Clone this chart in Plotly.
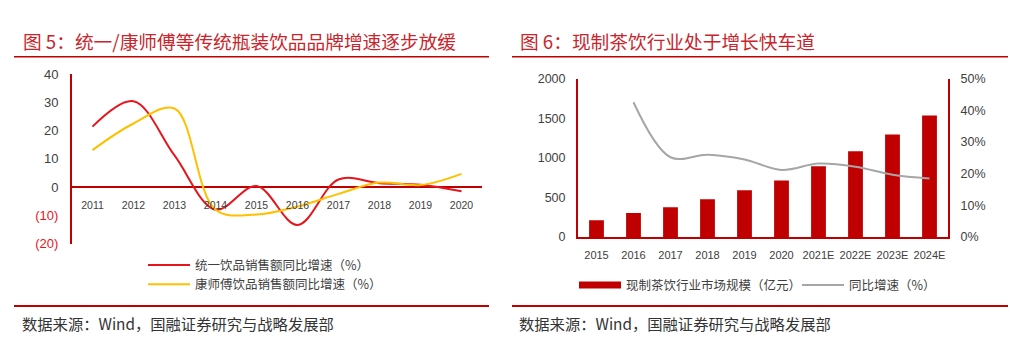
import plotly.graph_objects as go

W, H = 1026, 357

# ---------------- data ----------------
years_left = ["2011", "2012", "2013", "2014", "2015", "2016", "2017", "2018", "2019", "2020"]
tongyi_growth = [21.4, 30.4, 11.2, -8.0, 0.4, -13.4, 2.7, 1.4, 0.8, -1.5]
kangshifu_growth = [13.1, 22.5, 27.8, -8.0, -9.7, -6.9, -2.4, 1.6, 0.7, 4.7]
left_yticks = [40, 30, 20, 10, 0, -10, -20]
left_yticktext = ["40", "30", "20", "10", "0",
                  "<span style='color:#E8141C'>(10)</span>",
                  "<span style='color:#E8141C'>(20)</span>"]

years_right = ["2015", "2016", "2017", "2018", "2019", "2020", "2021E", "2022E", "2023E", "2024E"]
market_size = [210, 303, 376, 477, 590, 715, 893, 1083, 1297, 1535]
yoy_growth = [None, 0.426, 0.252, 0.260, 0.245, 0.212, 0.232, 0.222, 0.197, 0.185]

title_left = "图 5：统一/康师傅等传统瓶装饮品品牌增速逐步放缓"
title_right = "图 6：现制茶饮行业处于增长快车道"
source_text = "数据来源：Wind，国融证券研究与战略发展部"

# ---------------- helpers ----------------
def px(x):
    return x / W

def py(y):
    return 1 - y / H

RED_DARK = "#C00000"
RED_LINE = "#E8141C"
YELLOW = "#FFC000"
GRAY = "#A6A6A6"
TXT = "#404040"
TITLE_RED = "#C9252C"
SANS = "Liberation Sans, Arial, Noto Sans CJK SC, sans-serif"
CJK = "Noto Sans CJK SC, sans-serif"

fig = go.Figure()

# ---------------- left chart ----------------
fig.add_trace(go.Scatter(
    x=years_left, y=tongyi_growth, mode="lines", name="统一饮品销售额同比增速（%）",
    line=dict(color=RED_LINE, width=2, shape="spline", smoothing=1.0),
    xaxis="x", yaxis="y", legend="legend"))
fig.add_trace(go.Scatter(
    x=years_left, y=kangshifu_growth, mode="lines", name="康师傅饮品销售额同比增速（%）",
    line=dict(color=YELLOW, width=2, shape="spline", smoothing=1.0),
    xaxis="x", yaxis="y", legend="legend"))

# ---------------- right chart ----------------
fig.add_trace(go.Bar(
    x=years_right, y=market_size, name="现制茶饮行业市场规模（亿元）",
    marker=dict(color=RED_DARK, line=dict(width=0)), width=0.4,
    xaxis="x2", yaxis="y2", showlegend=False))
# legend proxy for the bar series (wide red rectangle symbol)
fig.add_trace(go.Scatter(
    x=[None], y=[None], mode="lines", name="现制茶饮行业市场规模（亿元）",
    line=dict(color=RED_DARK, width=7), xaxis="x2", yaxis="y2", legend="legend2"))
fig.add_trace(go.Scatter(
    x=years_right, y=yoy_growth, mode="lines", name="同比增速（%）",
    line=dict(color=GRAY, width=2, shape="spline", smoothing=1.0),
    xaxis="x2", yaxis="y3", legend="legend2", connectgaps=False))

fig.update_layout(
    width=W, height=H,
    margin=dict(l=0, r=0, t=0, b=0),
    paper_bgcolor="white", plot_bgcolor="white",
    font=dict(family=SANS, color=TXT),
    xaxis=dict(
        domain=[px(72), px(482)], type="category", range=[-0.5, 9.5],
        anchor="free", position=py(188),
        showline=False, showgrid=False, zeroline=False,
        ticks="", ticklabelstandoff=10,
        tickfont=dict(size=10.5, color=TXT, family=SANS)),
    yaxis=dict(
        domain=[py(247), py(70)], range=[-20, 40],
        tickvals=left_yticks, ticktext=left_yticktext,
        showline=True, linecolor=RED_DARK, linewidth=2,
        showgrid=False, zeroline=True, zerolinecolor=RED_DARK, zerolinewidth=2,
        ticks="", ticklabelstandoff=9,
        tickfont=dict(size=13, color=TXT, family=SANS)),
    xaxis2=dict(
        domain=[px(578), px(948)], type="category", range=[-0.5, 9.5],
        anchor="y2", showline=True, linecolor=RED_DARK, linewidth=2,
        showgrid=False, zeroline=False, ticks="", ticklabelstandoff=7,
        tickfont=dict(size=11, color=TXT, family=SANS)),
    yaxis2=dict(
        domain=[py(240), py(75)], range=[0, 2000], anchor="x2",
        tickvals=[0, 500, 1000, 1500, 2000],
        showline=True, linecolor=RED_DARK, linewidth=2,
        showgrid=False, zeroline=False, ticks="", ticklabelstandoff=8,
        tickfont=dict(size=12.5, color=TXT, family=SANS)),
    yaxis3=dict(
        domain=[py(240), py(75)], range=[0, 0.5], anchor="x2",
        overlaying="y2", side="right", tickformat=".0%",
        tickvals=[0, 0.1, 0.2, 0.3, 0.4, 0.5],
        showline=True, linecolor=RED_DARK, linewidth=2,
        showgrid=False, zeroline=False, ticks="", ticklabelstandoff=8,
        tickfont=dict(size=12.5, color=TXT, family=SANS)),
    legend=dict(
        x=px(143), y=py(254), xanchor="left", yanchor="top",
        orientation="v", bgcolor="rgba(0,0,0,0)", itemwidth=42,
        font=dict(size=12.5, color=TXT, family=CJK), tracegroupgap=0),
    legend2=dict(
        x=px(574), y=py(275), xanchor="left", yanchor="top",
        orientation="h", bgcolor="rgba(0,0,0,0)", itemwidth=42,
        entrywidth=166, entrywidthmode="pixels",
        font=dict(size=12.5, color=TXT, family=CJK)),
)

# titles
fig.add_annotation(text=title_left, x=px(21), y=py(35), xref="paper", yref="paper",
                   xanchor="left", yanchor="middle", showarrow=False,
                   font=dict(size=18.7, color=TITLE_RED, family=CJK))
fig.add_annotation(text=title_right, x=px(518), y=py(35), xref="paper", yref="paper",
                   xanchor="left", yanchor="middle", showarrow=False,
                   font=dict(size=18.7, color=TITLE_RED, family=CJK))
# sources
for x0 in (20, 517):
    fig.add_annotation(text=source_text, x=px(x0), y=py(330), xref="paper", yref="paper",
                       xanchor="left", yanchor="middle", showarrow=False,
                       font=dict(size=15.3, color="#333333", family=CJK))

# separator lines
for (x0, x1) in ((14, 489), (512, 1008)):
    fig.add_shape(type="line", xref="paper", yref="paper",
                  x0=px(x0), x1=px(x1), y0=py(52), y1=py(52),
                  line=dict(color=RED_DARK, width=1.5))
    fig.add_shape(type="line", xref="paper", yref="paper",
                  x0=px(x0), x1=px(x1), y0=py(312), y1=py(312),
                  line=dict(color=RED_DARK, width=2))

fig.write_html(
    "out.html",
    config={"displayModeBar": False},
    post_script="document.body.style.margin='0';document.body.style.overflow='hidden';",
)
